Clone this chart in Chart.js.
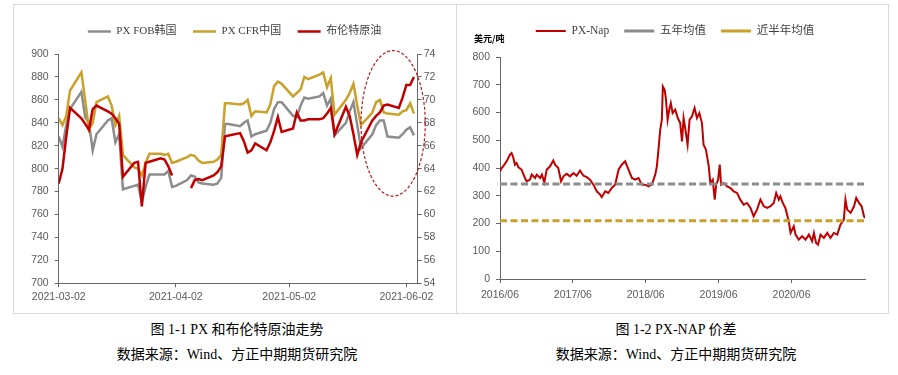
<!DOCTYPE html>
<html>
<head>
<meta charset="utf-8">
<script src="https://cdn.jsdelivr.net/npm/chart.js@4.4.0/dist/chart.umd.min.js"></script>
<style>
  body { margin: 0; background: #fff; width: 898px; height: 375px; position: relative; overflow: hidden; }
  .cell { position: absolute; top: 4px; height: 310px; border: 1px solid #d9d9d9; box-sizing: border-box; }
  canvas { position: absolute; top: 5px; }
  .cap { position: absolute; text-align: center; font: 14px 'Liberation Serif', 'Noto Sans CJK SC', serif; color: #000; line-height: 20px; }
  .unit { position: absolute; left: 474px; top: 32px; font: bold 9px 'Noto Sans CJK SC', sans-serif; color: #000; }
</style>
</head>
<body>
<div class="cell" style="left:13px;width:444px"></div>
<div class="cell" style="left:456px;width:433px"></div>
<canvas id="pxChart" width="441" height="307" style="left:14px"></canvas>
<canvas id="napChart" width="431" height="307" style="left:457px"></canvas>
<div class="unit">美元/吨</div>
<div class="cap" style="left:0;width:474px;top:320px">图 1-1 PX 和布伦特原油走势</div>
<div class="cap" style="left:0;width:474px;top:345px">数据来源：Wind、方正中期期货研究院</div>
<div class="cap" style="left:456px;width:440px;top:320px">图 1-2 PX-NAP 价差</div>
<div class="cap" style="left:456px;width:440px;top:345px">数据来源：Wind、方正中期期货研究院</div>
<script>
// ---- 图1-1 数据 ----
const pxDates = [
  '2021-03-02','2021-03-03','2021-03-04','2021-03-05',
  '2021-03-08','2021-03-09','2021-03-10','2021-03-11','2021-03-12',
  '2021-03-15','2021-03-16','2021-03-17','2021-03-18','2021-03-19',
  '2021-03-22','2021-03-23','2021-03-24','2021-03-25','2021-03-26',
  '2021-03-29','2021-03-30','2021-03-31','2021-04-01','2021-04-02',
  '2021-04-05','2021-04-06','2021-04-07','2021-04-08','2021-04-09',
  '2021-04-12','2021-04-13','2021-04-14','2021-04-15','2021-04-16',
  '2021-04-19','2021-04-20','2021-04-21','2021-04-22','2021-04-23',
  '2021-04-26','2021-04-27','2021-04-28','2021-04-29','2021-04-30',
  '2021-05-03','2021-05-04','2021-05-05','2021-05-06','2021-05-07',
  '2021-05-10','2021-05-11','2021-05-12','2021-05-13','2021-05-14',
  '2021-05-17','2021-05-18','2021-05-19','2021-05-20','2021-05-21',
  '2021-05-24','2021-05-25','2021-05-26','2021-05-27','2021-05-28',
  '2021-05-31','2021-06-01','2021-06-02','2021-06-03','2021-06-04'
];
const pxFobKorea = [
  828, 819, 838, 852,
  867, 845, 840, 816, 830,
  842, 844, 823, 830, 782,
  785, 786, 771, 784, 795,
  795, 795, 798, 784, 785,
  790, 794, 793, 788, 787,
  786, 787, 792, 839, 839,
  837, 840, 842, 828, 830,
  833, 840, 852, 858, 858,
  846, 845, 855, 862, 861,
  863, 866, 855, 861, 829,
  840, 850, 858, 838, 818,
  830, 838, 842, 842, 828,
  827, 830, 834, 836, 829
];
const pxCfrChina = [
  844, 838, 846, 868,
  884, 860, 834, 840, 858,
  863, 855, 838, 846, 812,
  801, 800, 794, 805, 813,
  813, 812, 813, 805, 806,
  810, 812, 811, 807, 805,
  806, 808, 812, 857, 857,
  856, 857, 860, 846, 850,
  849, 856, 872, 876, 874,
  863, 866, 869, 880, 878,
  882, 884, 871, 879, 847,
  860, 866, 874, 855, 838,
  849, 858, 860, 849, 848,
  847, 850, 851, 857, 848
];
const brentOil = [
  62.7, 64.0, 66.8, 69.3,
  68.4, 67.9, 67.4, 69.2, 69.5,
  69.0, 68.8, 68.4, 67.9, 63.3,
  64.5, 64.6, 60.7, 64.5, 64.6,
  64.9, 64.8, 64.2, 63.4, null,
  null, 62.3, 63.0, 63.1, 63.0,
  63.4, 63.7, 64.2, 66.8, 66.9,
  67.1, 66.4, 65.4, 65.6, 66.2,
  65.6, 66.3, 67.3, 68.5, 67.2,
  67.5, 68.9, 68.2, 68.2, 68.3,
  68.3, 68.4, 68.8, 69.3, 67.0,
  69.4, 68.6, 67.0, 65.2, 66.3,
  68.2, 68.6, 68.9, 69.5, 69.6,
  69.3, 70.2, 71.3, 71.3, 72.0
];
const pxTicks = ['2021-03-02', '2021-04-02', '2021-05-02', '2021-06-02'];
const pxAxisEnd = '2021-06-05';
// 虚线椭圆标注范围
const highlight = { from: '2021-05-21', to: '2021-06-07', low: 776, high: 903 };

// ---- 图1-2 数据 ----
const napDates = [
  '2016-06-01','2016-06-09','2016-06-17','2016-07-04','2016-07-21','2016-07-29','2016-08-06','2016-08-15',
  '2016-08-23','2016-09-01','2016-09-17','2016-10-04','2016-10-13','2016-10-29','2016-11-07','2016-11-24',
  '2016-12-02','2016-12-19','2016-12-28','2017-01-09','2017-01-21','2017-02-07','2017-02-23','2017-03-04',
  '2017-03-20','2017-04-03','2017-04-15','2017-05-01','2017-05-18','2017-06-04','2017-06-20','2017-07-07',
  '2017-07-24','2017-08-10','2017-08-26','2017-09-12','2017-09-29','2017-10-16','2017-10-24','2017-11-10',
  '2017-11-26','2017-12-13','2017-12-30','2018-01-16','2018-02-01','2018-02-18','2018-03-07','2018-03-24',
  '2018-04-09','2018-04-26','2018-05-13','2018-05-29','2018-06-15','2018-07-02','2018-07-19','2018-07-27',
  '2018-08-04','2018-08-13','2018-08-21','2018-08-26','2018-09-04','2018-09-10','2018-09-19','2018-09-27',
  '2018-10-05','2018-10-14','2018-10-27','2018-11-09','2018-11-21','2018-11-30','2018-12-08','2018-12-16',
  '2018-12-28','2019-01-07','2019-01-19','2019-02-01','2019-02-13','2019-02-25','2019-03-10','2019-03-18',
  '2019-03-30','2019-04-13','2019-04-21','2019-05-03','2019-05-13','2019-05-20','2019-05-30','2019-06-07',
  '2019-06-14','2019-06-27','2019-07-14','2019-07-31','2019-08-16','2019-09-02','2019-09-18','2019-10-05',
  '2019-10-22','2019-11-08','2019-11-24','2019-12-11','2019-12-28','2020-01-14','2020-01-31','2020-02-16',
  '2020-03-04','2020-03-16','2020-03-29','2020-04-06','2020-04-18','2020-05-01','2020-05-18','2020-05-27',
  '2020-06-12','2020-06-21','2020-07-07','2020-07-24','2020-08-10','2020-08-27','2020-09-12','2020-09-21',
  '2020-10-02','2020-10-12','2020-10-24','2020-11-10','2020-11-27','2020-12-13','2020-12-30','2021-01-16',
  '2021-02-01','2021-02-18','2021-02-26','2021-03-07','2021-03-24','2021-04-10','2021-04-21','2021-05-05',
  '2021-05-18','2021-05-30','2021-06-04'
];
const pxNap = [
  388, 400, 406, 424, 448, 454, 439, 412,
  418, 403, 394, 364, 352, 358, 376, 364,
  376, 364, 376, 348, 394, 406, 427, 412,
  400, 352, 370, 379, 370, 382, 372, 391,
  372, 367, 358, 340, 316, 304, 295, 316,
  310, 328, 340, 394, 412, 424, 394, 364,
  358, 364, 340, 340, 334, 340, 376, 406,
  466, 538, 574, 694, 682, 652, 574, 610,
  634, 598, 610, 580, 562, 496, 580, 544,
  484, 574, 586, 616, 580, 598, 562, 484,
  466, 406, 346, 358, 286, 340, 358, 412,
  340, 346, 334, 328, 316, 310, 286, 268,
  274, 256, 226, 250, 286, 262, 256, 262,
  274, 310, 286, 298, 274, 256, 208, 166,
  190, 160, 142, 154, 142, 160, 136, 166,
  130, 124, 160, 148, 166, 148, 166, 160,
  196, 214, 286, 250, 238, 262, 292, 274,
  262, 226, 220
];
const fiveYearMean = 342;
const halfYearMean = 210;
const napTicks = ['2016/06', '2017/06', '2018/06', '2019/06', '2020/06'];

// ---- helpers ----
const dayOf = (s, base) => (Date.parse(s) - Date.parse(base)) / 86400000;

// extra space under the legend, and an optional sideways nudge
const legendTweak = (extra, dx) => ({
  id: 'legendTweak',
  beforeInit(chart) {
    const lg = chart.legend;
    const fit = lg.fit;
    const draw = lg.draw;
    lg.fit = function () {
      fit.call(this);
      this.height += extra;
    };
    lg.draw = function () {
      this.ctx.save();
      this.ctx.translate(dx, 0);
      draw.call(this);
      this.ctx.restore();
    };
  }
});

const ellipseMark = {
  id: 'ellipseMark',
  afterDraw(chart) {
    const { ctx, scales } = chart;
    const base = pxDates[0];
    const x0 = scales.x.getPixelForValue(dayOf(highlight.from, base));
    const x1 = scales.x.getPixelForValue(dayOf(highlight.to, base));
    const y0 = scales.y.getPixelForValue(highlight.high);
    const y1 = scales.y.getPixelForValue(highlight.low);
    ctx.save();
    ctx.beginPath();
    ctx.ellipse((x0 + x1) / 2, (y0 + y1) / 2, (x1 - x0) / 2, (y1 - y0) / 2, 0, 0, Math.PI * 2);
    ctx.setLineDash([3, 2]);
    ctx.lineWidth = 1.2;
    ctx.strokeStyle = '#b01c1c';
    ctx.stroke();
    ctx.restore();
  }
};

Chart.defaults.font.family = "'Liberation Sans', Arial, sans-serif";
Chart.defaults.font.size = 10.5;
Chart.defaults.color = '#595959';

const axisColor = '#666666';
const legendFont = { family: "'Liberation Serif', 'Noto Sans CJK SC', serif", size: 11 };

// ---- 图1-1 ----
const pxBase = pxDates[0];
const toPoints = (dates, vals, base) => dates.map((d, i) => ({ x: dayOf(d, base), y: vals[i] }));

new Chart(document.getElementById('pxChart'), {
  type: 'line',
  data: {
    datasets: [
      { label: 'PX FOB韩国', data: toPoints(pxDates, pxFobKorea, pxBase), yAxisID: 'y',
        borderColor: '#8c8c8c', backgroundColor: '#8c8c8c', borderWidth: 2.5, order: 3 },
      { label: 'PX CFR中国', data: toPoints(pxDates, pxCfrChina, pxBase), yAxisID: 'y',
        borderColor: '#c9a02a', backgroundColor: '#c9a02a', borderWidth: 2.5, order: 2 },
      { label: '布伦特原油', data: toPoints(pxDates, brentOil, pxBase), yAxisID: 'y1',
        borderColor: '#c00000', backgroundColor: '#c00000', borderWidth: 2.5, order: 1 }
    ]
  },
  options: {
    responsive: false,
    animation: false,
    devicePixelRatio: 1,
    spanGaps: false,
    elements: { point: { radius: 0 }, line: { tension: 0 } },
    layout: { padding: { top: 4.5, left: 0, right: 0, bottom: 0 } },
    plugins: {
      tooltip: { enabled: false },
      legend: {
        labels: {
          usePointStyle: true, pointStyle: 'line', pointStyleWidth: 23,
          padding: 16.5, color: '#404040', font: legendFont,
          sort: (a, b) => a.datasetIndex - b.datasetIndex
        }
      }
    },
    scales: {
      x: {
        type: 'linear', min: 0, max: dayOf(pxAxisEnd, pxBase),
        afterBuildTicks: (s) => { s.ticks = pxTicks.map(t => ({ value: dayOf(t, pxBase) })); },
        ticks: { autoSkip: false, maxRotation: 0, padding: 4, callback: (v, i) => pxTicks[i] },
        grid: { drawOnChartArea: false, tickLength: 4, color: axisColor },
        border: { color: axisColor },
        afterFit: (s) => { s.height = 28.7; }
      },
      y: {
        position: 'left', min: 700, max: 900,
        ticks: { stepSize: 20, padding: 6 },
        grid: { drawOnChartArea: false, tickLength: 4, color: axisColor },
        border: { color: axisColor },
        afterFit: (s) => { s.width = 44.7; }
      },
      y1: {
        position: 'right', min: 54, max: 74,
        ticks: { stepSize: 2, padding: 2 },
        grid: { drawOnChartArea: false, tickLength: 4, color: axisColor },
        border: { color: axisColor },
        afterFit: (s) => { s.width = 37.3; }
      }
    }
  },
  plugins: [legendTweak(7, 0), ellipseMark]
});

// ---- 图1-2 ----
const napBase = napDates[0];
const napEnd = dayOf(napDates[napDates.length - 1], napBase);
const tickDay = (t) => dayOf(t.replace('/', '-') + '-01', napBase);

new Chart(document.getElementById('napChart'), {
  type: 'line',
  data: {
    datasets: [
      { label: 'PX-Nap', data: toPoints(napDates, pxNap, napBase),
        borderColor: '#c00000', backgroundColor: '#c00000', borderWidth: 2, order: 3 },
      { label: '五年均值', data: [{ x: 0, y: fiveYearMean }, { x: napEnd, y: fiveYearMean }],
        borderColor: '#8c8c8c', backgroundColor: '#8c8c8c', borderWidth: 3, borderDash: [7, 3.5], order: 2 },
      { label: '近半年均值', data: [{ x: 0, y: halfYearMean }, { x: napEnd, y: halfYearMean }],
        borderColor: '#c9a02a', backgroundColor: '#c9a02a', borderWidth: 3, borderDash: [7, 3.5], order: 1 }
    ]
  },
  options: {
    responsive: false,
    animation: false,
    devicePixelRatio: 1,
    elements: { point: { radius: 0 }, line: { tension: 0 } },
    layout: { padding: { top: 5.25, left: 0, right: 23, bottom: 0 } },
    plugins: {
      tooltip: { enabled: false },
      legend: {
        labels: {
          usePointStyle: true, pointStyle: 'line', pointStyleWidth: 30,
          padding: 15, color: '#404040', font: { ...legendFont, size: 11.5 },
          sort: (a, b) => a.datasetIndex - b.datasetIndex
        }
      }
    },
    scales: {
      x: {
        type: 'linear', min: 0, max: napEnd,
        afterBuildTicks: (s) => { s.ticks = napTicks.map(t => ({ value: tickDay(t) })); },
        ticks: { autoSkip: false, maxRotation: 0, padding: 6, callback: (v, i) => napTicks[i] },
        grid: { drawOnChartArea: false, tickLength: 4, color: axisColor },
        border: { color: axisColor },
        afterFit: (s) => { s.height = 33; }
      },
      y: {
        min: 0, max: 800,
        ticks: { stepSize: 100, padding: 6 },
        grid: { drawOnChartArea: false, tickLength: 4, color: axisColor },
        border: { color: axisColor },
        afterFit: (s) => { s.width = 43; }
      }
    }
  },
  plugins: [legendTweak(10.25, 14)]
});
</script>
</body>
</html>
